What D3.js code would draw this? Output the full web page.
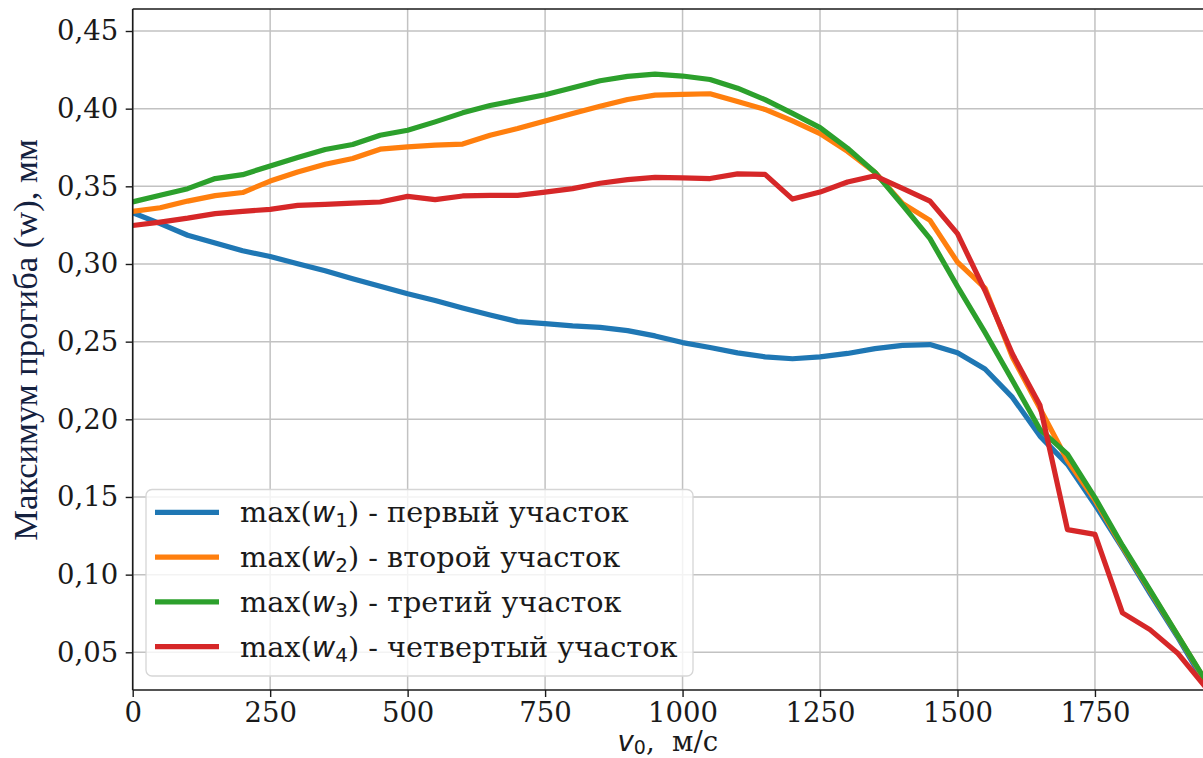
<!DOCTYPE html>
<html>
<head>
<meta charset="utf-8">
<script src="https://cdn.jsdelivr.net/npm/d3@7"></script>
<style>
  html, body { margin: 0; padding: 0; background: #fff; }
  svg { display: block; }
</style>
</head>
<body>
<svg id="chart" width="1203" height="758"></svg>
<script>
// Initial velocity v0, m/s
const velocity = [0, 50, 100, 150, 200, 250, 300, 350, 400, 450, 500, 550, 600, 650, 700, 750,
  800, 850, 900, 950, 1000, 1050, 1100, 1150, 1200, 1250, 1300, 1350, 1400, 1450, 1500, 1550,
  1600, 1650, 1700, 1750, 1800, 1850, 1900, 1950];

// Maximum deflection per section, mm
const w1 = [0.3330, 0.3260, 0.3185, 0.3135, 0.3085, 0.3048, 0.3001, 0.2956, 0.2905, 0.2857,
  0.2808, 0.2765, 0.2717, 0.2672, 0.2629, 0.2616, 0.2602, 0.2592, 0.2571, 0.2537,
  0.2494, 0.2462, 0.2428, 0.2402, 0.2390, 0.2402, 0.2424, 0.2455, 0.2476, 0.2481,
  0.2428, 0.2324, 0.2141, 0.1892, 0.1710, 0.1450, 0.1170, 0.0880, 0.0600, 0.0300];
const w2 = [0.3339, 0.3362, 0.3405, 0.3440, 0.3460, 0.3534, 0.3592, 0.3642, 0.3679, 0.3739,
  0.3754, 0.3765, 0.3772, 0.3829, 0.3872, 0.3921, 0.3969, 0.4016, 0.4059, 0.4087,
  0.4092, 0.4096, 0.4046, 0.3995, 0.3921, 0.3840, 0.3725, 0.3590, 0.3390, 0.3281,
  0.3012, 0.2845, 0.2400, 0.2070, 0.1735, 0.1480, 0.1180, 0.0895, 0.0610, 0.0320];
const w3 = [0.3400, 0.3442, 0.3485, 0.3550, 0.3575, 0.3631, 0.3685, 0.3737, 0.3769, 0.3829,
  0.3861, 0.3915, 0.3973, 0.4020, 0.4055, 0.4090, 0.4135, 0.4180, 0.4208, 0.4222,
  0.4210, 0.4188, 0.4132, 0.4058, 0.3970, 0.3878, 0.3745, 0.3590, 0.3380, 0.3163,
  0.2855, 0.2560, 0.2250, 0.1935, 0.1775, 0.1496, 0.1188, 0.0902, 0.0612, 0.0325];
const w4 = [0.3248, 0.3270, 0.3295, 0.3324, 0.3339, 0.3352, 0.3377, 0.3384, 0.3392, 0.3399,
  0.3435, 0.3414, 0.3438, 0.3442, 0.3442, 0.3463, 0.3485, 0.3520, 0.3543, 0.3558,
  0.3554, 0.3550, 0.3580, 0.3577, 0.3418, 0.3463, 0.3528, 0.3568, 0.3487, 0.3405,
  0.3195, 0.2829, 0.2420, 0.2090, 0.1290, 0.1259, 0.0754, 0.0646, 0.0496, 0.0280];

const seriesNames = ["первый участок", "второй участок", "третий участок", "четвертый участок"];
const seriesColors = ["#1f77b4", "#ff7f0e", "#2ca02c", "#d62728"];
const xTicks = [0, 250, 500, 750, 1000, 1250, 1500, 1750];
const yTicks = [0.05, 0.10, 0.15, 0.20, 0.25, 0.30, 0.35, 0.40, 0.45];

const seriesValues = [w1, w2, w3, w4];

const svg = d3.select("#chart");
const plot = { left: 132.7, right: 1203, top: 9, bottom: 690 };

const x = d3.scaleLinear().domain([0, 1950]).range([plot.left, plot.left + 1950 * 0.54986]);
const y = d3.scaleLinear().domain([0.05, 0.45]).range([652.3, 31]);

const serif = "'DejaVu Serif', serif";
const sans = "'DejaVu Sans', sans-serif";
const ink = "#1a1a1a";
const fmt = d => d3.format(".2f")(d).replace(".", ",");

svg.append("defs").append("clipPath").attr("id", "plotClip")
  .append("rect")
  .attr("x", plot.left).attr("y", plot.top)
  .attr("width", plot.right - plot.left).attr("height", plot.bottom - plot.top);

// grid
const grid = svg.append("g");
grid.selectAll("line.gx").data(xTicks).join("line")
  .attr("x1", d => x(d)).attr("x2", d => x(d))
  .attr("y1", plot.top).attr("y2", plot.bottom)
  .attr("stroke", "#c2c2c2").attr("stroke-width", 1.5);
grid.selectAll("line.gy").data(yTicks).join("line")
  .attr("x1", plot.left).attr("x2", plot.right)
  .attr("y1", d => y(d)).attr("y2", d => y(d))
  .attr("stroke", "#c2c2c2").attr("stroke-width", 1.5);

// curves
const line = d3.line().x((d, i) => x(velocity[i])).y(d => y(d));
const lines = svg.append("g").attr("clip-path", "url(#plotClip)");
seriesValues.forEach((vals, k) => {
  lines.append("path")
    .attr("d", line(vals))
    .attr("fill", "none")
    .attr("stroke", seriesColors[k])
    .attr("stroke-width", 5.2)
    .attr("stroke-linejoin", "round");
});

// axes
const xAxis = svg.append("g")
  .attr("transform", `translate(0,${plot.bottom})`)
  .call(d3.axisBottom(x).tickValues(xTicks).tickFormat(d => d).tickSize(7).tickPadding(5).tickSizeOuter(0));
const yAxis = svg.append("g")
  .attr("transform", `translate(${plot.left},0)`)
  .call(d3.axisLeft(y).tickValues(yTicks).tickFormat(fmt).tickSize(7).tickPadding(7.5).tickSizeOuter(0));

xAxis.select(".domain").attr("d", `M${plot.left},0H${plot.right}`);
yAxis.select(".domain").attr("d", `M0,${plot.top}V${plot.bottom}`);
[xAxis, yAxis].forEach(a => {
  a.select(".domain").attr("stroke", ink).attr("stroke-width", 1.6);
  a.selectAll(".tick line").attr("stroke", ink).attr("stroke-width", 1.4);
  a.selectAll(".tick text").attr("font-family", serif).attr("font-size", 27.5).attr("fill", ink);
});

// top spine
svg.append("line")
  .attr("x1", plot.left).attr("x2", plot.right)
  .attr("y1", plot.top).attr("y2", plot.top)
  .attr("stroke", ink).attr("stroke-width", 1.6);

// axis labels
const xl = svg.append("text")
  .attr("x", (plot.left + plot.right) / 2).attr("y", 751)
  .attr("text-anchor", "middle")
  .attr("font-family", serif).attr("font-size", 27.5).attr("fill", ink);
xl.append("tspan").attr("font-family", sans).attr("font-style", "italic").text("v");
xl.append("tspan").attr("font-family", sans).attr("font-size", 19).attr("dy", 3).text("0");
xl.append("tspan").attr("dy", -3).text(",\u00a0 м/с");

svg.append("text")
  .attr("transform", "translate(37,340) rotate(-90)")
  .attr("text-anchor", "middle")
  .attr("font-family", "'Liberation Serif', 'Times New Roman', serif")
  .attr("font-size", 34.6)
  .attr("fill", "#14213f")
  .text("Максимум прогиба (w), мм");

// legend
const lg = svg.append("g");
lg.append("rect")
  .attr("x", 146).attr("y", 489.5).attr("width", 547).attr("height", 186.5)
  .attr("rx", 6).attr("ry", 6)
  .attr("fill", "#fff").attr("fill-opacity", 0.8)
  .attr("stroke", "#d6d6d6").attr("stroke-width", 1.3);
seriesNames.forEach((name, k) => {
  const cy = 512.3 + k * 44.8;
  lg.append("line")
    .attr("x1", 155).attr("x2", 219).attr("y1", cy).attr("y2", cy)
    .attr("stroke", seriesColors[k]).attr("stroke-width", 5.2);
  const t = lg.append("text")
    .attr("x", 240).attr("y", cy + 10)
    .attr("font-family", serif).attr("font-size", 28.7).attr("fill", ink);
  t.append("tspan").text("max(");
  t.append("tspan").attr("font-family", sans).attr("font-style", "italic").text("w");
  t.append("tspan").attr("font-family", sans).attr("font-size", 20).attr("dy", 5).text(String(k + 1));
  t.append("tspan").attr("dy", -5).text(") - " + name);
});
</script>
</body>
</html>
